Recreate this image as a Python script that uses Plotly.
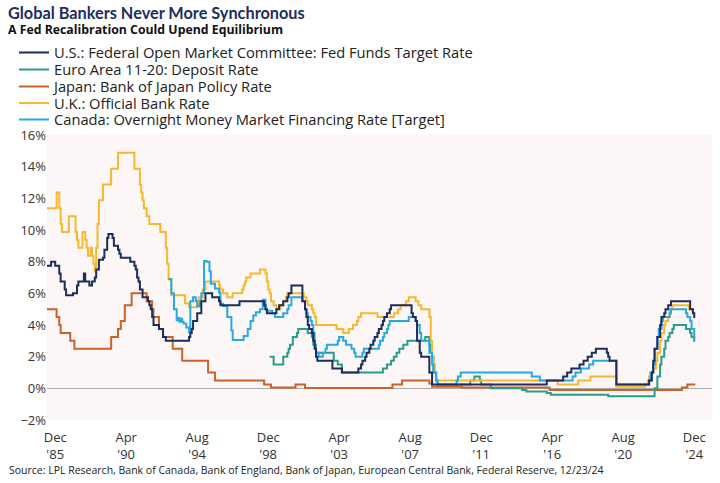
import plotly.graph_objects as go

# ---------------- data (policy-rate change points, % ) ----------------
US_DATES = ["1985-06-01","1985-09-01","1985-12-01","1986-03-01","1986-04-01","1986-07-01","1986-08-01",
            "1987-01-01","1987-04-01","1987-05-01","1987-09-01","1987-10-01","1988-01-01","1988-03-01",
            "1988-05-01","1988-06-01","1988-08-01","1988-11-01","1988-12-01","1989-02-01","1989-03-01",
            "1989-06-01","1989-07-01","1989-10-01","1989-11-01","1989-12-01","1990-07-01","1990-10-01",
            "1990-11-01","1990-12-01","1991-01-01","1991-02-01","1991-04-01","1991-08-01","1991-09-01",
            "1991-10-01","1991-11-01","1991-12-01","1992-04-01","1992-07-01","1992-09-01","1994-02-01",
            "1994-03-01","1994-04-01","1994-05-01","1994-08-01","1994-11-01","1995-02-01","1995-07-01",
            "1995-12-01","1996-01-01","1997-03-01","1998-09-01","1998-10-01","1998-11-01","1999-06-01",
            "1999-08-01","1999-11-01","2000-02-01","2000-03-01","2000-05-01","2001-01-01","2001-03-01",
            "2001-04-01","2001-05-01","2001-06-01","2001-08-01","2001-09-01","2001-10-01","2001-11-01",
            "2001-12-01","2002-11-01","2003-06-01","2004-06-01","2004-08-01","2004-09-01","2004-11-01",
            "2004-12-01","2005-02-01","2005-03-01","2005-05-01","2005-06-01","2005-08-01","2005-09-01",
            "2005-11-01","2005-12-01","2006-01-01","2006-03-01","2006-05-01","2006-06-01","2007-09-01",
            "2007-10-01","2007-12-01","2008-01-01","2008-03-01","2008-04-01","2008-10-01","2008-12-01",
            "2015-12-01","2016-12-01","2017-03-01","2017-06-01","2017-12-01","2018-03-01","2018-06-01",
            "2018-09-01","2018-12-01","2019-08-01","2019-09-01","2019-10-01","2020-03-01","2022-03-01",
            "2022-05-01","2022-06-01","2022-07-01","2022-09-01","2022-11-01","2022-12-01","2023-02-01",
            "2023-03-01","2023-05-01","2023-07-01","2024-09-01","2024-11-01","2024-12-01","2024-12-23"]
US_RATES = [7.75,8.0,7.75,7.25,6.75,6.25,5.875,
            6.0,6.5,6.75,7.25,6.75,6.5,6.75,
            7.0,7.5,8.125,8.25,8.75,9.5,9.75,
            9.5,9.0,8.75,8.5,8.25,8.0,7.75,
            7.5,7.0,6.75,6.25,5.75,5.5,5.25,
            5.0,4.5,4.0,3.75,3.25,3.0,3.25,
            3.5,3.75,4.25,4.75,5.5,6.0,5.75,
            5.5,5.25,5.5,5.25,5.0,4.75,5.0,
            5.25,5.5,5.75,6.0,6.5,5.5,5.0,
            4.5,4.0,3.75,3.5,3.0,2.5,2.0,
            1.75,1.25,1.0,1.25,1.5,1.75,2.0,
            2.25,2.5,2.75,3.0,3.25,3.5,3.75,
            4.0,4.25,4.5,4.75,5.0,5.25,4.75,
            4.5,4.25,3.0,2.25,2.0,1.0,0.25,
            0.5,0.75,1.0,1.25,1.5,1.75,2.0,
            2.25,2.5,2.25,2.0,1.75,0.25,0.5,
            1.0,1.75,2.5,3.25,4.0,4.5,4.75,
            5.0,5.25,5.5,5.0,4.75,4.5,4.5]

EU_DATES = ["1999-01-01","1999-04-01","1999-11-01","2000-02-01","2000-03-01","2000-04-01","2000-06-01",
            "2000-09-01","2000-10-01","2001-05-01","2001-08-01","2001-09-01","2001-11-01","2002-12-01",
            "2003-03-01","2003-06-01","2005-12-01","2006-03-01","2006-06-01","2006-08-01","2006-10-01",
            "2006-12-01","2007-03-01","2007-06-01","2008-07-01","2008-10-01","2008-11-01","2008-12-01",
            "2009-01-01","2009-03-01","2009-04-01","2011-04-01","2011-07-01","2011-11-01","2011-12-01",
            "2012-07-01","2014-06-01","2014-09-01","2015-12-01","2016-03-01","2019-09-01","2022-07-01",
            "2022-09-01","2022-11-01","2022-12-01","2023-02-01","2023-03-01","2023-05-01","2023-06-01",
            "2023-08-01","2023-09-01","2024-06-01","2024-09-01","2024-10-01","2024-12-01","2024-12-23"]
EU_RATES = [2.0,1.5,2.0,2.25,2.5,2.75,3.25,
            3.5,3.75,3.5,3.25,2.75,2.25,1.75,
            1.5,1.0,1.25,1.5,1.75,2.0,2.25,
            2.5,2.75,3.0,3.25,2.75,2.25,2.0,
            1.0,0.5,0.25,0.5,0.75,0.5,0.25,
            0.0,-0.1,-0.2,-0.3,-0.4,-0.5,0.0,
            0.75,1.5,2.0,2.5,3.0,3.25,3.5,
            3.75,4.0,3.75,3.5,3.25,3.0,3.0]

JP_DATES = ["1985-06-01","1986-01-01","1986-03-01","1986-04-01","1986-11-01","1987-02-01","1989-05-01",
            "1989-10-01","1989-12-01","1990-03-01","1990-08-01","1991-07-01","1991-11-01","1991-12-01",
            "1992-04-01","1992-07-01","1993-02-01","1993-09-01","1995-04-01","1995-09-01","1998-09-01",
            "1999-02-01","2000-08-01","2001-03-01","2006-07-01","2007-02-01","2008-10-01","2008-12-01",
            "2010-10-01","2016-02-01","2024-03-01","2024-07-01","2024-12-23"]
JP_RATES = [5.0,4.5,4.0,3.5,3.0,2.5,3.25,
            3.75,4.25,5.25,6.0,5.5,5.0,4.5,
            3.75,3.25,2.5,1.75,1.0,0.5,0.25,
            0.05,0.25,0.02,0.25,0.5,0.3,0.1,
            0.05,-0.1,0.05,0.25,0.25]

UK_DATES = ["1985-06-01","1986-01-01","1986-03-01","1986-04-01","1986-05-01","1986-10-01","1987-03-01",
            "1987-04-01","1987-05-01","1987-08-01","1987-10-01","1987-11-01","1987-12-01","1988-02-01",
            "1988-03-01","1988-04-01","1988-05-01","1988-06-01","1988-07-01","1988-08-01","1988-11-01",
            "1989-05-01","1989-10-01","1990-10-01","1991-02-01","1991-03-01","1991-04-01","1991-05-01",
            "1991-07-01","1991-09-01","1992-05-01","1992-09-01","1992-10-01","1992-11-01","1993-01-01",
            "1993-11-01","1994-02-01","1994-09-01","1994-12-01","1995-02-01","1995-12-01","1996-01-01",
            "1996-03-01","1996-06-01","1996-10-01","1997-05-01","1997-06-01","1997-07-01","1997-08-01",
            "1997-11-01","1998-06-01","1998-10-01","1998-11-01","1998-12-01","1999-01-01","1999-02-01",
            "1999-04-01","1999-06-01","1999-09-01","1999-11-01","2000-01-01","2000-02-01","2001-02-01",
            "2001-04-01","2001-05-01","2001-08-01","2001-09-01","2001-10-01","2001-11-01","2003-02-01",
            "2003-07-01","2003-11-01","2004-02-01","2004-05-01","2004-06-01","2004-08-01","2005-08-01",
            "2006-08-01","2006-11-01","2007-01-01","2007-05-01","2007-07-01","2007-12-01","2008-02-01",
            "2008-04-01","2008-10-01","2008-11-01","2008-12-01","2009-01-01","2009-02-01","2009-03-01",
            "2016-08-01","2017-11-01","2018-08-01","2020-03-01","2021-12-01","2022-02-01","2022-03-01",
            "2022-05-01","2022-06-01","2022-08-01","2022-09-01","2022-11-01","2022-12-01","2023-02-01",
            "2023-03-01","2023-05-01","2023-06-01","2023-08-01","2024-08-01","2024-11-01","2024-12-23"]
UK_RATES = [11.375,12.375,11.375,10.375,9.875,10.875,9.875,
            9.375,8.875,9.875,9.375,8.875,8.375,8.875,
            8.375,7.875,7.375,8.875,10.375,11.875,12.875,
            13.875,14.875,13.875,12.875,12.375,11.875,11.375,
            10.875,10.375,9.875,8.875,7.875,6.875,5.875,
            5.375,5.125,5.75,6.25,6.75,6.5,6.25,
            6.0,5.75,6.0,6.25,6.5,6.75,7.0,
            7.25,7.5,7.25,6.75,6.25,6.0,5.5,
            5.25,5.0,5.25,5.5,5.75,6.0,5.75,
            5.5,5.25,5.0,4.75,4.5,4.0,3.75,
            3.5,3.75,4.0,4.25,4.5,4.75,4.5,
            4.75,5.0,5.25,5.5,5.75,5.5,5.25,
            5.0,4.5,3.0,2.0,1.5,1.0,0.5,
            0.25,0.5,0.75,0.1,0.25,0.5,0.75,
            1.0,1.25,1.75,2.25,3.0,3.5,4.0,
            4.25,4.5,5.0,5.25,5.0,4.75,4.75]

CA_DATES = ["1992-11-01","1993-01-01","1993-03-01","1993-05-01","1993-06-01","1993-07-01","1993-08-01",
            "1993-09-01","1993-10-01","1993-12-01","1994-02-01","1994-03-01","1994-05-01","1994-07-01",
            "1994-08-01","1994-10-01","1994-11-01","1995-01-01","1995-03-01","1995-05-01","1995-06-01",
            "1995-09-01","1995-12-01","1996-01-01","1996-03-01","1996-06-01","1996-09-01","1996-10-01",
            "1997-06-01","1997-09-01","1997-11-01","1998-01-01","1998-03-01","1998-06-01","1998-08-01",
            "1998-10-01","1998-11-01","1999-03-01","1999-05-01","1999-11-01","2000-02-01","2000-03-01",
            "2000-05-01","2001-01-01","2001-03-01","2001-04-01","2001-05-01","2001-07-01","2001-08-01",
            "2001-09-01","2001-10-01","2001-11-01","2002-01-01","2002-04-01","2002-06-01","2002-07-01",
            "2003-03-01","2003-04-01","2003-07-01","2003-09-01","2004-01-01","2004-03-01","2004-04-01",
            "2004-09-01","2004-10-01","2005-09-01","2005-10-01","2005-12-01","2006-01-01","2006-03-01",
            "2006-04-01","2006-05-01","2007-07-01","2007-12-01","2008-01-01","2008-03-01","2008-04-01",
            "2008-10-01","2008-12-01","2009-01-01","2009-03-01","2009-04-01","2010-06-01","2010-07-01",
            "2010-09-01","2015-01-01","2015-07-01","2017-07-01","2017-09-01","2018-01-01","2018-07-01",
            "2018-10-01","2020-03-01","2022-03-01","2022-04-01","2022-06-01","2022-07-01","2022-09-01",
            "2022-10-01","2022-12-01","2023-01-01","2023-06-01","2023-07-01","2024-06-01","2024-07-01",
            "2024-09-01","2024-10-01","2024-12-01","2024-12-23"]
CA_RATES = [6.9,6.0,5.0,4.3,4.45,4.2,4.4,
            4.2,4.1,3.85,3.55,5.5,5.75,5.5,
            5.2,5.5,6.0,8.05,8.0,7.4,6.6,
            6.3,6.05,5.35,5.2,4.5,3.65,3.05,
            3.3,3.75,4.25,4.6,4.8,5.0,5.6,
            5.0,4.9,4.75,4.5,4.75,5.0,5.25,
            5.75,5.5,5.0,4.75,4.5,4.25,4.0,
            3.5,2.75,2.25,2.0,2.25,2.5,2.75,
            3.0,3.25,3.0,2.75,2.5,2.25,2.0,
            2.25,2.5,2.75,3.0,3.25,3.5,3.75,
            4.0,4.25,4.5,4.25,4.0,3.5,3.0,
            2.25,1.5,1.0,0.5,0.25,0.5,0.75,
            1.0,0.75,0.5,0.75,1.0,1.25,1.5,
            1.75,0.25,0.5,1.0,1.5,2.5,3.25,
            3.75,4.25,4.5,4.75,5.0,4.75,4.5,
            4.25,3.75,3.25,3.25]

SERIES_NAMES = ["U.S.: Federal Open Market Committee: Fed Funds Target Rate",
                "Euro Area 11-20: Deposit Rate",
                "Japan: Bank of Japan Policy Rate",
                "U.K.: Official Bank Rate",
                "Canada: Overnight Money Market Financing Rate [Target]"]
SERIES_COLORS = ["#1c2d5e", "#2a9d8a", "#c9622b", "#f5b82e", "#27a9e1"]

TICK_DATES = ["1985-12-01","1990-04-01","1994-08-01","1998-12-01","2003-04-01",
              "2007-08-01","2011-12-01","2016-04-01","2020-08-01","2024-12-01"]
TICK_TEXT = ["Dec<br>'85","Apr<br>'90","Aug<br>'94","Dec<br>'98","Apr<br>'03",
             "Aug<br>'07","Dec<br>'11","Apr<br>'16","Aug<br>'20","Dec<br>'24"]

# ---------------- figure ----------------
FONT = "Open Sans"
TITLE_FONT = "Lato"
W, H = 720, 483
ML, MR, MT, MB = 47, 8, 135, 63
PW, PH = W - ML - MR, H - MT - MB

def py(y):
    return (H - MB - y) / PH

def px(x):
    return (x - ML) / PW

LEGEND_ROWS_Y = [53, 70, 87, 103.5, 120]   # pixel rows of the legend entries
legend_ids = ["legend", "legend2", "legend3", "legend4", "legend5"]

fig = go.Figure()
series = [(US_DATES, US_RATES), (EU_DATES, EU_RATES), (JP_DATES, JP_RATES),
          (UK_DATES, UK_RATES), (CA_DATES, CA_RATES)]
draw_order = [2, 1, 3, 4, 0]
for i in draw_order:
    d, v = series[i]
    fig.add_trace(go.Scatter(x=d, y=v, mode="lines", name=SERIES_NAMES[i],
                             line=dict(color=SERIES_COLORS[i], width=2, shape="hv"),
                             legend=legend_ids[i], hoverinfo="skip"))

legend_layouts = {}
for i, lid in enumerate(legend_ids):
    legend_layouts[lid] = dict(
        xref="container", yref="container", x=14 / W, y=1 - LEGEND_ROWS_Y[i] / H,
        xanchor="left", yanchor="middle", bgcolor="rgba(0,0,0,0)", borderwidth=0,
        font=dict(size=14.7, color="#222222", family=FONT), itemwidth=30)

fig.update_layout(
    width=W, height=H,
    margin=dict(l=ML, r=MR, t=MT, b=MB, autoexpand=False),
    paper_bgcolor="white", plot_bgcolor="#fcf7f6",
    font=dict(family=FONT, color="#333333", size=13),
    showlegend=True,
    xaxis=dict(type="date", range=["1985-06-01", "2026-01-01"], tickvals=TICK_DATES,
               ticktext=TICK_TEXT, tickangle=0, ticklabelstandoff=8, showgrid=False,
               zeroline=False, showline=False, ticks="", automargin=False,
               tickfont=dict(size=13, color="#333333"), fixedrange=True),
    yaxis=dict(range=[-2, 16], dtick=2, tick0=0, ticksuffix="%", showgrid=False,
               zeroline=True, zerolinecolor="#a9a9a9", zerolinewidth=1, showline=False,
               ticks="", automargin=False, tickfont=dict(size=13, color="#333333"), fixedrange=True),
    annotations=[
        dict(text="<b>Global Bankers Never More Synchronous</b>", xref="paper", yref="paper",
             x=px(6), y=py(12), xanchor="left", yanchor="middle", showarrow=False,
             font=dict(size=16.3, color="#1c2d5e", family=TITLE_FONT)),
        dict(text="<b>A Fed Recalibration Could Upend Equilibrium</b>", xref="paper", yref="paper",
             x=px(6), y=py(30), xanchor="left", yanchor="middle", showarrow=False,
             font=dict(size=12.3, color="#111111", family=FONT)),
        dict(text="Source: LPL Research, Bank of Canada, Bank of England, Bank of Japan, European Central Bank, Federal Reserve, 12/23/24",
             xref="paper", yref="paper", x=px(7), y=py(470), xanchor="left", yanchor="middle",
             showarrow=False, font=dict(size=10.5, color="#222222", family=FONT)),
    ],
    **legend_layouts,
)

fig.write_html("out.html", config={"displayModeBar": False},
               post_script="document.body.style.margin='0';document.body.style.padding='0';")
